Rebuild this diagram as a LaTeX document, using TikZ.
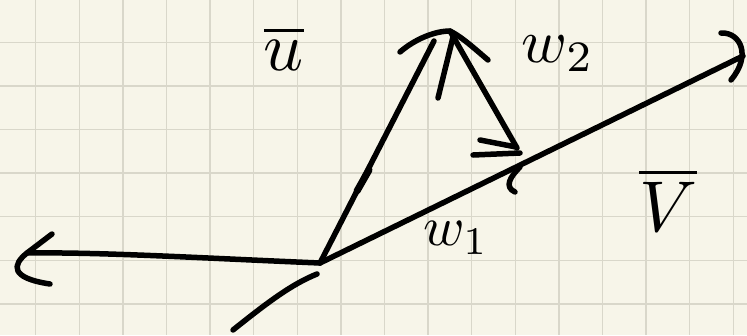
\documentclass[tikz,border=0pt]{standalone}
\usetikzlibrary{calc}
\definecolor{paper}{HTML}{F7F5E9}
\definecolor{gridln}{HTML}{D9D7CA}

\begin{document}
\begin{tikzpicture}[x=1pt,y=-1pt,
  pen/.style={line width=5.5pt,line cap=round,line join=round,black},
  gridline/.style={line width=1.4pt,gridln},
  lbl/.style={inner sep=0pt,scale=#1}
]
  \fill[paper] (0,0) rectangle (747,335);
  \useasboundingbox (0,0) rectangle (747,335);
  % squared paper
  \foreach \k in {0,...,16}
    \draw[gridline] ({35.7+43.6*\k},0) -- ({35.7+43.6*\k},335);
  \foreach \k in {0,...,6}
    \draw[gridline] (0,{42.3+43.6*\k}) -- (747,{42.3+43.6*\k});

  \coordinate (O) at (320,263);
  \coordinate (vtip) at (743,56);
  \coordinate (vgap) at (317,274);
  \coordinate (vtail) at (233,330);
  \coordinate (ltip) at (27,253);
  \coordinate (utip) at (450,31);
  \coordinate (uend) at (434,41);
  \coordinate (w1tip) at (520,163);
  \coordinate (w2tail) at (517,148);

  % v
  \draw[pen] (O) -- (vtip);
  \draw[pen,shift={(vtip)}] (-22,-23) .. controls (-3,-24) and (9,-1) .. (-12,24);
  \draw[pen] (vgap) .. controls +(-25,10) and +(35,-28) .. (vtail);
  % left arrow
  \draw[pen] (O) .. controls +(-120,-5) and +(75,-1) .. (ltip);
  \draw[pen,shift={(ltip)}] (25,-19) -- (0,0) .. controls (-15,12) and (-17,25) .. (23,31);
  % u
  \draw[pen] (O) -- (uend);
  \draw[line width=7pt,line cap=round] (357,191) -- (369,170);
  \draw[pen,shift={(utip)}] (-50,21) .. controls (-35,8) and (-15,0) .. (0,0)
    .. controls (12,6) and (25,18) .. (38,29);
  \draw[pen,shift={(utip)}] (3,6) -- (-12,67);
  % w2
  \draw[pen] (w2tail) -- (utip);
  % w1 head
  \draw[pen,shift={(w1tip)}] (-40,-23) -- (-4,-16);
  \draw[pen,shift={(w1tip)}] (-47,-8) -- (0,-10);
  \draw[pen,shift={(w1tip)}] (0,4) .. controls (-10,14) and (-16,24) .. (-5,29);

  \node[lbl=7] (ubar) at (284,48) {$\overline{u}$};
  \node[lbl=6.2] (w2) at (558,54) {$w_2$};
  \node[lbl=5.6] (w1) at (456,238) {$w_1$};
  \node[lbl=7.2] (vbar) at (668,200) {$\overline{V}$};
\end{tikzpicture}
\end{document}
